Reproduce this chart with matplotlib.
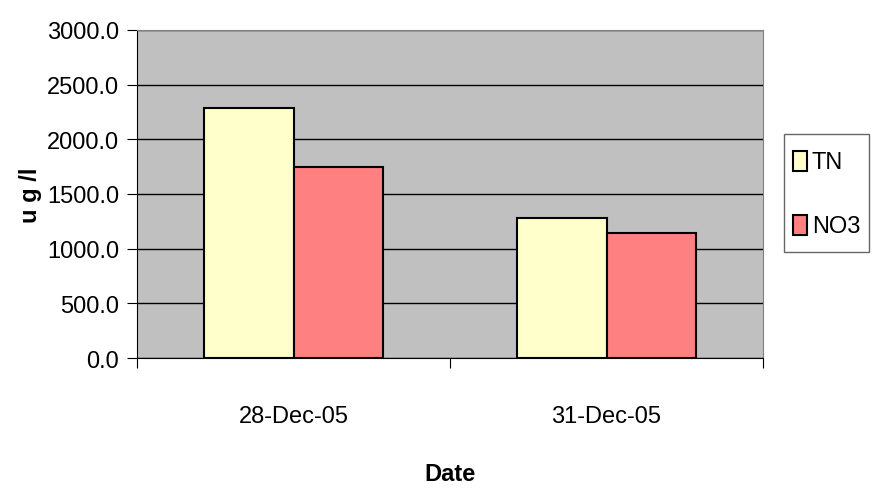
import matplotlib
matplotlib.use("Agg")
import numpy as np
from matplotlib import pyplot as plt
from matplotlib import patches as mpatches
from matplotlib.legend_handler import HandlerPatch

dates = ["28-Dec-05", "31-Dec-05"]
tn = [2290.0, 1285.0]
no3 = [1745.0, 1142.0]
yticks = [0, 500, 1000, 1500, 2000, 2500, 3000]

plt.rcParams['font.family'] = ['Liberation Sans Narrow', 'Liberation Sans', 'DejaVu Sans']
fs = 17

fig = plt.figure(figsize=(8.72, 5.02), dpi=100)
ax = fig.add_axes([137/872, 1-359/502, 626/872, 328/502])
ax.set_facecolor("#c0c0c0")

x = np.arange(len(dates))
w = 0.2875
b1 = ax.bar(x - w/2, tn, w, color="#ffffcc", edgecolor="black", linewidth=1.5, label="TN", zorder=3)
b2 = ax.bar(x + w/2, no3, w, color="#ff8080", edgecolor="black", linewidth=1.5, label="NO3", zorder=3)

ax.set_xlim(-0.5, 1.5)
ax.set_ylim(0, 3000)
ax.set_yticks(yticks)
ax.set_yticklabels(["%.1f" % v for v in yticks], fontsize=fs)
ax.yaxis.grid(True, color="black", linewidth=1, zorder=1)
ax.set_axisbelow(True)

ax.set_xticks([-0.5, 0.5, 1.5])
ax.set_xticklabels([])
ax.set_xticks(x, minor=True)
ax.set_xticklabels(dates, minor=True, fontsize=fs)
ax.tick_params(axis="x", which="minor", length=0, pad=34)
ax.tick_params(axis="x", which="major", length=7, direction="out", color="black")
ax.tick_params(axis="y", length=7, direction="out", pad=6)

for s in ["top", "right"]:
    ax.spines[s].set_color("#808080")
ax.spines["left"].set_color("black")
ax.spines["bottom"].set_color("black")

ax.set_ylabel("u g /l", fontsize=fs, fontweight="bold")
ax.yaxis.set_label_coords(-95/626, 0.5)
ax.set_xlabel("Date", fontsize=fs, fontweight="bold")
ax.xaxis.set_label_coords(0.5, -(463-359)/328)


# small box inside a taller legend row, like the excel legend
def small_box(legend, orig_handle, xdescent, ydescent, width, height, fontsize):
    h = height * 0.55
    return mpatches.Rectangle((-xdescent, -ydescent + (height - h) / 2), width, h)


h1 = b1.patches[0]
h2 = b2.patches[0]
leg = fig.legend(handles=[h1, h2], labels=["TN", "NO3"], loc="upper left",
                 bbox_to_anchor=(784/872, 1-135/502),
                 fontsize=fs, frameon=True, fancybox=False, edgecolor="#404040",
                 handlelength=0.6, handleheight=2.0, handletextpad=0.2,
                 labelspacing=1.15, borderpad=0.37, borderaxespad=0,
                 handler_map={h1: HandlerPatch(patch_func=small_box),
                              h2: HandlerPatch(patch_func=small_box)})
leg.get_frame().set_linewidth(1)

fig.savefig("out.png", dpi=100)
